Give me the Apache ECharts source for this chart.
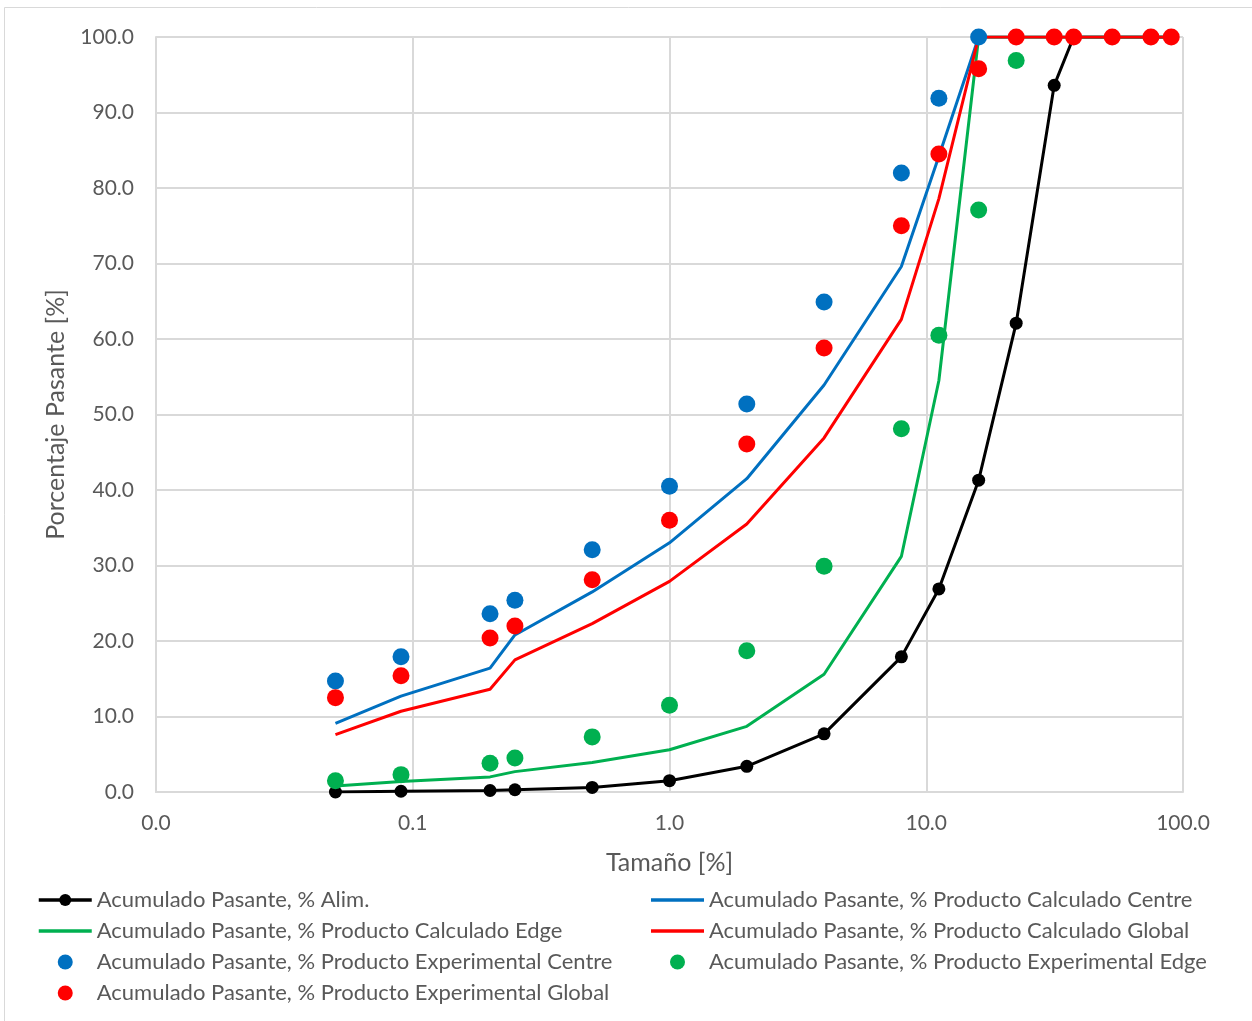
<!DOCTYPE html>
<html>
<head>
<meta charset="utf-8">
<script src="https://cdn.jsdelivr.net/npm/echarts@6/dist/echarts.min.js"></script>
<style>
  html, body { margin: 0; padding: 0; background: #fff; }
  #chart { width: 1252px; height: 1021px; }
</style>
</head>
<body>
<div id="chart"></div>
<script>
  // tamaños de tamiz (eje x, log)
  const sizes = [0.05, 0.09, 0.2, 0.25, 0.5, 1, 2, 4, 8, 11.2, 16, 22.4, 31.5, 37.5, 53, 75, 90]

  const alim = [0.0, 0.1, 0.2, 0.3, 0.6, 1.5, 3.4, 7.7, 17.9, 26.9, 41.3, 62.1, 93.6, 100, 100, 100, 100]
  const calcCentre = [9.1, 12.7, 16.4, 20.8, 26.5, 33.0, 41.5, 53.9, 69.6, 84.2, 100, 100, 100, 100, 100, 100, 100]
  const calcEdge = [0.8, 1.4, 2.0, 2.7, 3.9, 5.6, 8.7, 15.6, 31.2, 54.5, 100, 100, 100, 100, 100, 100, 100]
  const calcGlobal = [7.6, 10.7, 13.6, 17.5, 22.3, 27.9, 35.5, 46.9, 62.6, 78.6, 100, 100, 100, 100, 100, 100, 100]
  const expCentre = [14.7, 17.9, 23.6, 25.4, 32.1, 40.5, 51.4, 64.9, 82.0, 91.9, 100, null, null, null, null, null, null]
  const expEdge = [1.5, 2.3, 3.8, 4.5, 7.3, 11.5, 18.7, 29.9, 48.1, 60.5, 77.1, 96.9, null, null, null, null, null]
  const expGlobal = [12.5, 15.4, 20.4, 22.0, 28.1, 36.0, 46.1, 58.8, 75.0, 84.5, 95.8, 100, 100, 100, 100, 100, 100]

  const yTicks = [0, 10, 20, 30, 40, 50, 60, 70, 80, 90, 100]

  const names = [
    'Acumulado Pasante, % Alim.',
    'Acumulado Pasante, % Producto Calculado Centre',
    'Acumulado Pasante, % Producto Calculado Edge',
    'Acumulado Pasante, % Producto Calculado Global',
    'Acumulado Pasante, % Producto Experimental Centre',
    'Acumulado Pasante, % Producto Experimental Edge',
    'Acumulado Pasante, % Producto Experimental Global'
  ]

  const FONT = 'Lato'
  const TXT = '#595959'
  // icono de línea sola para la leyenda
  const LINE_ICON = 'path://M0 0H56V3.6H0Z'

  const pairs = (vals) => sizes.map((s, i) => [s, vals[i]]).filter(p => p[1] != null)

  const lineSeries = (name, vals, color, withDots) => ({
    name,
    type: 'line',
    data: pairs(vals),
    showSymbol: withDots,
    symbol: withDots ? 'circle' : 'none',
    symbolSize: 13,
    lineStyle: { color, width: 3 },
    itemStyle: { color },
    emphasis: { disabled: true },
    z: 2,
    animation: false
  })

  const dotSeries = (name, vals, color) => ({
    name,
    type: 'scatter',
    data: pairs(vals),
    symbol: 'circle',
    symbolSize: 17,
    itemStyle: { color, opacity: 1 },
    emphasis: { disabled: true },
    z: 5,
    animation: false
  })

  const legendBase = {
    orient: 'vertical',
    top: 889,
    padding: 0,
    itemWidth: 53,
    itemHeight: 15,
    itemGap: 9,
    lineStyle: { width: 3.5 },
    textStyle: { fontFamily: FONT, fontSize: 22, color: TXT },
    selectedMode: false
  }

  const chart = echarts.init(document.getElementById('chart'))

  chart.setOption({
    backgroundColor: '#fff',
    textStyle: { fontFamily: FONT },
    grid: { left: 156, right: 69, top: 37, bottom: 229 },
    xAxis: {
      type: 'log',
      logBase: 10,
      min: 0.01,
      max: 100,
      name: 'Tamaño [%]',
      nameLocation: 'middle',
      nameGap: 58,
      nameTextStyle: { fontFamily: FONT, fontSize: 25, color: TXT },
      axisLine: { show: true, lineStyle: { color: '#d9d9d9', width: 2 } },
      axisTick: { show: false },
      minorTick: { show: false },
      splitLine: { show: true, lineStyle: { color: '#d9d9d9', width: 2 } },
      axisLabel: {
        margin: 21,
        fontFamily: FONT,
        fontSize: 21,
        color: TXT,
        formatter: v => v.toFixed(1)
      }
    },
    yAxis: {
      type: 'value',
      min: yTicks[0],
      max: yTicks[yTicks.length - 1],
      interval: 10,
      name: 'Porcentaje Pasante [%]',
      nameLocation: 'middle',
      nameGap: 88,
      nameTextStyle: { fontFamily: FONT, fontSize: 25, color: TXT },
      axisLine: { show: true, lineStyle: { color: '#d9d9d9', width: 2 } },
      axisTick: { show: false },
      splitLine: { show: true, lineStyle: { color: '#d9d9d9', width: 2 } },
      axisLabel: {
        margin: 22,
        fontFamily: FONT,
        fontSize: 21,
        color: TXT,
        formatter: v => v.toFixed(1)
      }
    },
    legend: [
      Object.assign({}, legendBase, {
        left: 37,
        data: [
          { name: names[0] },
          { name: names[2], icon: LINE_ICON },
          { name: names[4] },
          { name: names[6] }
        ]
      }),
      Object.assign({}, legendBase, {
        left: 651,
        data: [
          { name: names[1], icon: LINE_ICON },
          { name: names[3], icon: LINE_ICON },
          { name: names[5] }
        ]
      })
    ],
    graphic: [{
      type: 'rect',
      shape: { x: 4.5, y: 7.5, width: 1300, height: 1100 },
      style: { fill: 'none', stroke: '#d9d9d9', lineWidth: 1 },
      silent: true
    }],
    series: [
      lineSeries(names[0], alim, '#000000', true),
      lineSeries(names[1], calcCentre, '#0070c0', false),
      lineSeries(names[2], calcEdge, '#00b050', false),
      lineSeries(names[3], calcGlobal, '#ff0000', false),
      dotSeries(names[4], expCentre, '#0070c0'),
      dotSeries(names[5], expEdge, '#00b050'),
      dotSeries(names[6], expGlobal, '#ff0000')
    ]
  })
</script>
</body>
</html>
